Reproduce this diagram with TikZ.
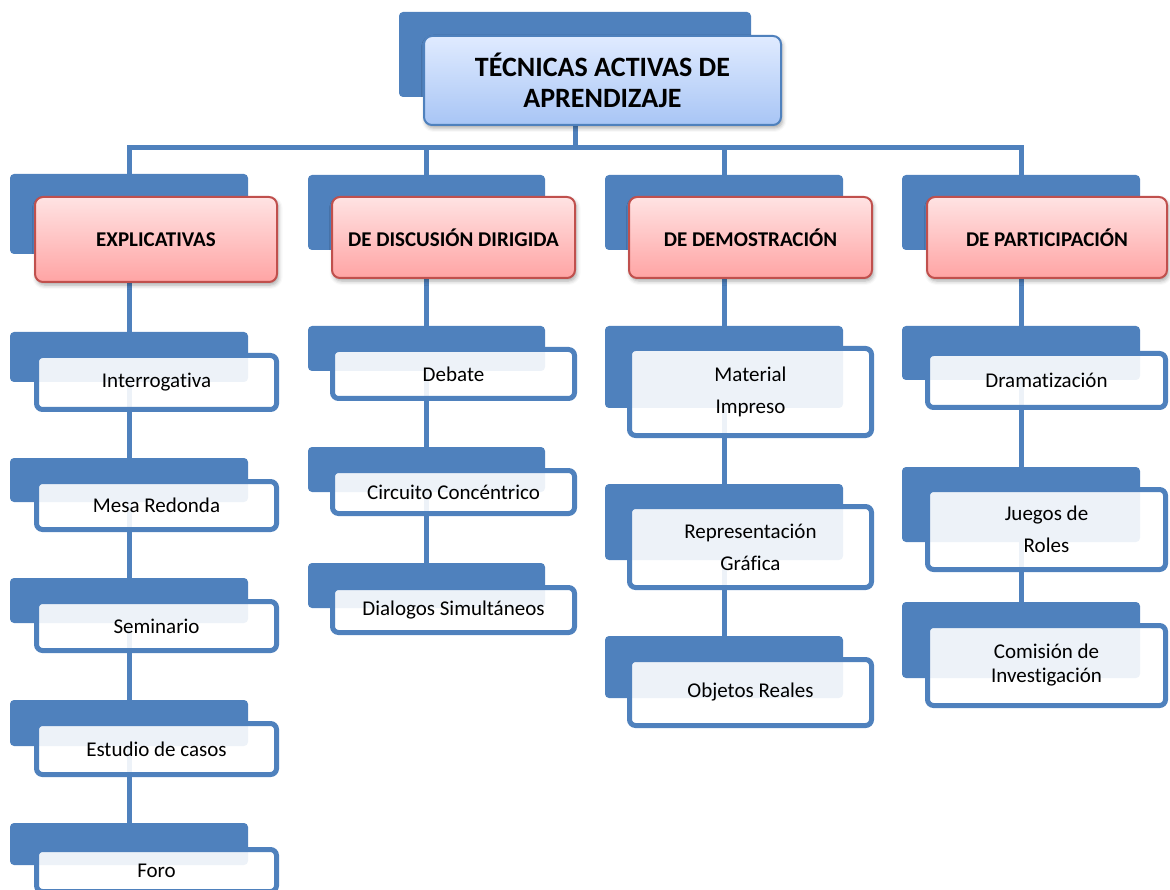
\documentclass[tikz,border=0pt]{standalone}
\usepackage{fontspec}
\setmainfont{Carlito}[Ligatures={NoCommon,NoRare,NoContextual}]
\usetikzlibrary{shadows.blur}
\pgfdeclarelayer{bg}
\pgfsetlayers{bg,main}
\definecolor{sblue}{HTML}{4F81BD}
\definecolor{sred}{HTML}{C0504D}
\definecolor{pinkT}{HTML}{FFE3E3}
\definecolor{pinkB}{HTML}{FFA4A4}
\definecolor{topT}{HTML}{E0EBFF}
\definecolor{topB}{HTML}{A8C5F5}
\newcommand\mkbox[8]{%
  \pgfmathsetmacro\mkcx{(#2+#4)/2}\pgfmathsetmacro\mkcy{(#3+#5)/2}%
  \pgfmathsetmacro\mkw{#4-#2-#7}\pgfmathsetmacro\mkh{#5-#3-#7}%
  \node[#6, minimum width=\mkw pt, minimum height=\mkh pt] (#1) at (\mkcx,\mkcy) {#8};}
\tikzset{
  backbox/.style={fill=sblue, rounded corners=4pt, inner sep=0pt},
  itembox/.style={draw=sblue, line width=5pt, fill=white, fill opacity=0.9, text opacity=1,
    rounded corners=6pt, inner sep=0pt, align=center, font=\fontsize{21}{32}\selectfont},
  catbox/.style={draw=sred, line width=2pt, top color=pinkT, bottom color=pinkB,
    rounded corners=8pt, inner sep=0pt, align=center, font=\bfseries\fontsize{21}{25}\selectfont,
    blur shadow={shadow xshift=1.5pt, shadow yshift=-3pt, shadow blur radius=4pt, shadow opacity=35}},
  topbox/.style={draw=sblue, line width=2pt, top color=topT, bottom color=topB,
    rounded corners=8pt, inner sep=0pt, align=center, font=\bfseries\fontsize{28}{31}\selectfont,
    blur shadow={shadow xshift=1.5pt, shadow yshift=-3pt, shadow blur radius=4pt, shadow opacity=35}},
  conn/.style={draw=sblue, line width=5pt}
}
\begin{document}
\begin{tikzpicture}[x=1pt,y=-1pt]
\useasboundingbox (0,0) rectangle (1170,890);
% top
\mkbox{topb}{399}{12}{751}{97}{backbox}{0}{}
\mkbox{top}{423}{35}{782}{126}{topbox}{2}{TÉCNICAS ACTIVAS DE\\APRENDIZAJE}
% categories
\mkbox{c1b}{10}{174}{248}{254}{backbox}{0}{}
\mkbox{c1}{34}{196}{278}{283}{catbox}{2}{EXPLICATIVAS}
\mkbox{c2b}{308}{175}{545}{250}{backbox}{0}{}
\mkbox{c2}{331}{196}{576}{279}{catbox}{2}{DE DISCUSIÓN DIRIGIDA}
\mkbox{c3b}{605}{175}{843}{250}{backbox}{0}{}
\mkbox{c3}{628}{196}{873}{279}{catbox}{2}{DE DEMOSTRACIÓN}
\mkbox{c4b}{902}{175}{1140}{250}{backbox}{0}{}
\mkbox{c4}{926}{196}{1168}{279}{catbox}{2}{DE PARTICIPACIÓN}
% column 1
\mkbox{i11b}{10}{332}{248}{382}{backbox}{0}{}
\mkbox{i11}{34}{353}{279}{412}{itembox}{5}{Interrogativa}
\mkbox{i12b}{10}{458}{248}{502}{backbox}{0}{}
\mkbox{i12}{34}{479}{279}{532}{itembox}{5}{Mesa Redonda}
\mkbox{i13b}{10}{578}{248}{623}{backbox}{0}{}
\mkbox{i13}{34}{599}{279}{653}{itembox}{5}{Seminario}
\mkbox{i14b}{10}{700}{248}{746}{backbox}{0}{}
\mkbox{i14}{34}{721}{279}{777}{itembox}{5}{Estudio de casos}
\mkbox{i15b}{10}{823}{248}{865}{backbox}{0}{}
\mkbox{i15}{34}{847}{279}{894}{itembox}{5}{Foro}
% column 2
\mkbox{i21b}{308}{326}{545}{371}{backbox}{0}{}
\mkbox{i21}{330}{347}{577}{401}{itembox}{5}{Debate}
\mkbox{i22b}{308}{447}{545}{492}{backbox}{0}{}
\mkbox{i22}{330}{468}{577}{516}{itembox}{5}{Circuito Concéntrico}
\mkbox{i23b}{308}{563}{545}{608}{backbox}{0}{}
\mkbox{i23}{330}{585}{577}{635}{itembox}{5}{Dialogos Simultáneos}
% column 3
\mkbox{i31b}{605}{326}{843}{408}{backbox}{0}{}
\mkbox{i31}{627}{346}{874}{438}{itembox}{5}{Material\\Impreso}
\mkbox{i32b}{605}{484}{843}{560}{backbox}{0}{}
\mkbox{i32}{627}{504}{874}{590}{itembox}{5}{Representación\\Gráfica}
\mkbox{i33b}{605}{636}{843}{698}{backbox}{0}{}
\mkbox{i33}{627}{657}{874}{728}{itembox}{5}{Objetos Reales}
% column 4
\mkbox{i41b}{902}{326}{1140}{380}{backbox}{0}{}
\mkbox{i41}{925}{351}{1168}{410}{itembox}{5}{Dramatización}
\mkbox{i42b}{902}{467}{1140}{542}{backbox}{0}{}
\mkbox{i42}{925}{487}{1168}{572}{itembox}{5}{Juegos de\\Roles}
\mkbox{i43b}{902}{602}{1140}{678}{backbox}{0}{}
\mkbox{i43}{925}{623}{1168}{708}{itembox,font=\fontsize{21}{24}\selectfont}{5}{Comisión de\\Investigación}
% connectors
\coordinate (hy) at (0,148);
\begin{pgfonlayer}{bg}
\draw[conn] (topb.south) -- (topb.south |- hy);
\draw[conn, line cap=rect] (c1b.center |- hy) -- (c4b.center |- hy);
\draw[conn] (c1b.center |- hy) -- (i15b.north);
\draw[conn] (c2b.center |- hy) -- (i23b.north);
\draw[conn] (c3b.center |- hy) -- (i33b.north);
\draw[conn] (c4b.center |- hy) -- (i43b.north);
\end{pgfonlayer}
\end{tikzpicture}
\end{document}
